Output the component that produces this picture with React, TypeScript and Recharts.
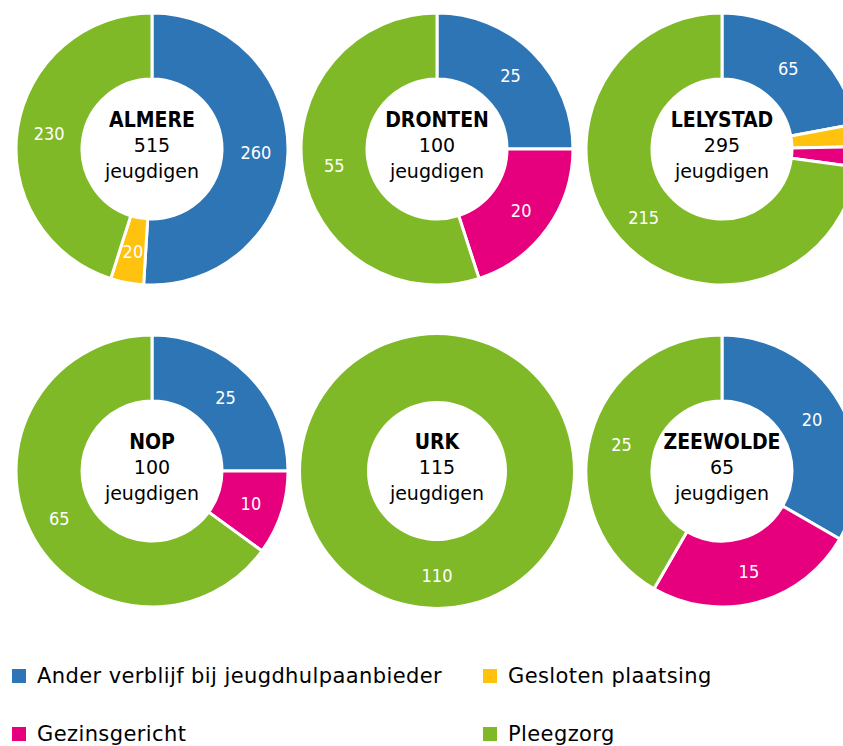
import { PieChart, Pie, Cell } from "recharts";

const cities = ["ALMERE", "DRONTEN", "LELYSTAD", "NOP", "URK", "ZEEWOLDE"];
const totals = [515, 100, 295, 100, 115, 65];
const categories = [
  "Ander verblijf bij jeugdhulpaanbieder",
  "Gesloten plaatsing",
  "Gezinsgericht",
  "Pleegzorg",
];
const anderVerblijf = [260, 25, 65, 25, 0, 20];
const geslotenPlaatsing = [20, 0, 8, 0, 0, 0];
const gezinsgericht = [0, 20, 7, 10, 0, 15];
const pleegzorg = [230, 55, 215, 65, 110, 25];

const COLORS = ["#2E75B6", "#FFC20E", "#E6007E", "#80B928"];
const FONT = "'DejaVu Sans', sans-serif";
const FONT_COND = "'DejaVu Sans Condensed', 'DejaVu Sans', sans-serif";
const RAD = Math.PI / 180;

// donut centres on the page (3 per row)
const colX = [152, 437, 722];
const rowY = [149, 471];
const MARGIN = 5; // recharts default chart margin

const series = [anderVerblijf, geslotenPlaatsing, gezinsgericht, pleegzorg];

function cityData(i: number) {
  return categories
    .map((name, k) => ({ name, value: series[k][i], color: COLORS[k] }))
    .filter((d) => d.value > 0);
}

const renderSliceLabel = (props: any) => {
  const { cx, cy, midAngle, innerRadius, outerRadius, value } = props;
  if (value < 10) return null;
  const r = (innerRadius + outerRadius) / 2 + 1;
  const x = cx + r * Math.cos(-midAngle * RAD);
  const y = cy + r * Math.sin(-midAngle * RAD);
  return (
    <text
      x={x}
      y={y}
      fill="#fff"
      textAnchor="middle"
      dominantBaseline="central"
      fontSize={18}
      fontFamily={FONT_COND}
    >
      {value}
    </text>
  );
};

export default function App() {
  return (
    <div
      style={{
        position: "absolute",
        left: 0,
        top: 0,
        width: 843,
        height: 746,
        overflow: "hidden",
        background: "#fff",
        fontFamily: FONT,
      }}
    >
      <PieChart width={843} height={625}>
        {cities.map((city, i) => {
          const data = cityData(i);
          return (
            <Pie
              key={city}
              data={data}
              dataKey="value"
              nameKey="name"
              cx={colX[i % 3] - MARGIN}
              cy={rowY[Math.floor(i / 3)] - MARGIN}
              innerRadius={70}
              outerRadius={136}
              startAngle={90}
              endAngle={-270}
              stroke={data.length > 1 ? "#fff" : "none"}
              strokeWidth={3}
              label={renderSliceLabel}
              labelLine={false}
              isAnimationActive={false}
            >
              {data.map((d) => (
                <Cell key={d.name} fill={d.color} />
              ))}
            </Pie>
          );
        })}
      </PieChart>
      {/* centre captions */}
      <svg
        width={843}
        height={625}
        style={{ position: "absolute", left: 0, top: 0, pointerEvents: "none" }}
      >
        {cities.map((city, i) => {
          const cx = colX[i % 3];
          const cy = rowY[Math.floor(i / 3)];
          return (
            <text key={city} textAnchor="middle" fill="#000">
              <tspan x={cx} y={cy - 22} fontSize={21} fontWeight="bold" fontFamily={FONT_COND}>
                {city}
              </tspan>
              <tspan x={cx} y={cy + 3} fontSize={19} fontFamily={FONT}>
                {totals[i]}
              </tspan>
              <tspan x={cx} y={cy + 29} fontSize={19} fontFamily={FONT}>
                jeugdigen
              </tspan>
            </text>
          );
        })}
      </svg>
      {categories.map((name, k) => {
        const left = k % 2 === 0 ? 12 : 483;
        const top = k < 2 ? 664 : 722;
        return (
          <div
            key={name}
            style={{
              position: "absolute",
              left,
              top,
              display: "flex",
              alignItems: "center",
              fontSize: 21,
              color: "#000",
              whiteSpace: "nowrap",
              letterSpacing: 0.4,
            }}
          >
            <span
              style={{
                display: "inline-block",
                width: 14,
                height: 14,
                background: COLORS[k],
                marginRight: 11,
              }}
            />
            {name}
          </div>
        );
      })}
    </div>
  );
}
